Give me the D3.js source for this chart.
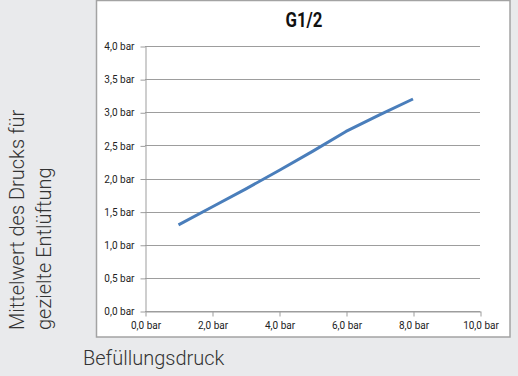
<!DOCTYPE html>
<html>
<head>
<meta charset="utf-8">
<script src="https://cdn.jsdelivr.net/npm/d3@7"></script>
<style>
  html, body { margin: 0; padding: 0; background: #e9eaec; }
  svg { display: block; }
</style>
</head>
<body>
<svg id="chart" width="518" height="376"></svg>
<script>
// Befüllungsdruck (bar) and the mean venting pressure (bar) for G1/2
const fillPressure = [1, 2, 3, 4, 5, 6, 7, 8];
const ventPressure = [1.3, 1.57, 1.84, 2.12, 2.41, 2.71, 2.96, 3.2];
const xTicks = [0, 2, 4, 6, 8, 10];
const yTicks = [0, 0.5, 1, 1.5, 2, 2.5, 3, 3.5, 4];
const title = "G1/2";
const yTitleLines = ["Mittelwert des Drucks für", "gezielte Entlüftung"];
const xTitle = "Befüllungsdruck";

const fmt = v => d3.format(".1f")(v).replace(".", ",") + " bar";
const sans = "Roboto, 'Liberation Sans', sans-serif";

const svg = d3.select("#chart");

// white chart panel
svg.append("rect")
  .attr("x", 96.5).attr("y", 0.5).attr("width", 413.5).attr("height", 336.5)
  .attr("fill", "#ffffff").attr("stroke", "#a3a3a3").attr("stroke-width", 1.5);

const x = d3.scaleLinear().domain([0, 10]).range([145, 480]);
const y = d3.scaleLinear().domain([0, 4]).range([311, 46]);

// horizontal gridlines
svg.append("g").selectAll("line").data(yTicks).join("line")
  .attr("x1", x(0)).attr("x2", x(10))
  .attr("y1", d => Math.round(y(d)) + 0.5).attr("y2", d => Math.round(y(d)) + 0.5)
  .attr("stroke", "#9d9d9d").attr("stroke-width", 1);

// y axis
const yAxis = svg.append("g").attr("transform", `translate(${x(0) + 0.5},0.5)`)
  .call(d3.axisLeft(y).tickValues(yTicks).tickFormat(fmt).tickSizeInner(5).tickSizeOuter(0).tickPadding(6));
yAxis.select(".domain").attr("stroke", "#9d9d9d");
yAxis.selectAll(".tick line").attr("stroke", "#9d9d9d");
yAxis.selectAll(".tick text").attr("font-family", sans).attr("font-size", 10).attr("fill", "#222");

// x axis
const xAxis = svg.append("g").attr("transform", `translate(0.5,${Math.round(y(0)) + 0.5})`)
  .call(d3.axisBottom(x).tickValues(xTicks).tickFormat(fmt).tickSizeInner(5).tickSizeOuter(0).tickPadding(5));
xAxis.select(".domain").attr("stroke", "#9d9d9d");
xAxis.selectAll(".tick line").attr("stroke", "#9d9d9d");
xAxis.selectAll(".tick text").attr("font-family", sans).attr("font-size", 10).attr("fill", "#222");

// data line
const pts = fillPressure.map((v, i) => [v, ventPressure[i]]);
svg.append("path").datum(pts)
  .attr("d", d3.line().x(d => x(d[0])).y(d => y(d[1])))
  .attr("fill", "none").attr("stroke", "#4a7ebb").attr("stroke-width", 3)
  .attr("stroke-linejoin", "round");

// chart title (narrowed bold face)
svg.append("text")
  .attr("transform", "translate(304,27) scale(0.84,1)")
  .attr("text-anchor", "middle")
  .attr("font-family", sans).attr("font-weight", "bold").attr("font-size", 20)
  .attr("fill", "#111").text(title);

// axis titles
const yt = svg.append("text")
  .attr("transform", "translate(0,330) rotate(-90)")
  .attr("font-family", sans).attr("font-weight", 300)
  .attr("font-size", 20).attr("fill", "#333");
yTitleLines.forEach((t, i) => {
  yt.append("tspan").attr("x", 0).attr("y", 24 + i * 27).text(t);
});

svg.append("text").attr("x", 83).attr("y", 365)
  .attr("font-family", sans).attr("font-weight", 300)
  .attr("font-size", 20).attr("fill", "#333").text(xTitle);
</script>
</body>
</html>
